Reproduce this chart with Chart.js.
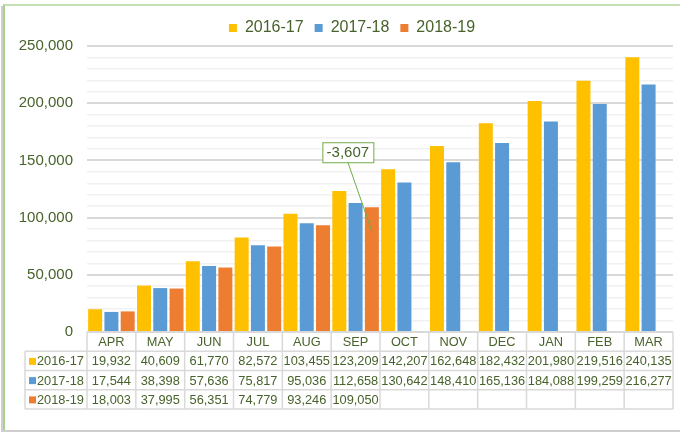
<!DOCTYPE html>
<html>
<head>
<meta charset="utf-8">
<script src="https://cdn.jsdelivr.net/npm/chart.js@4.4.1/dist/chart.umd.min.js"></script>
<style>
    html, body { margin: 0; padding: 0; background: #fff; }
    .wrap { position: relative; width: 680px; height: 432px; overflow: hidden; }
    #chart { position: absolute; left: 0; top: 0; }
    .frame {
        position: absolute; left: 3px; top: 4px; width: 720px; height: 424px;
        border-top: 2px solid #c5e0b4; border-left: 2px solid #a9d18e;
        box-shadow: -2px 2px 0 #cfcfcf; pointer-events: none;
    }
</style>
</head>
<body>
<div class="wrap">
    <canvas id="chart" width="680" height="432"></canvas>
    <div class="frame"></div>
</div>
<script>
/* ==============================
   Cumulative monthly values — FY comparison
   ============================== */

const months = ['APR', 'MAY', 'JUN', 'JUL', 'AUG', 'SEP', 'OCT', 'NOV', 'DEC', 'JAN', 'FEB', 'MAR'];
const seriesNames = ['2016-17', '2017-18', '2018-19'];
const fy1617 = [19932, 40609, 61770, 82572, 103455, 123209, 142207, 162648, 182432, 201980, 219516, 240135];
const fy1718 = [17544, 38398, 57636, 75817, 95036, 112658, 130642, 148410, 165136, 184088, 199259, 216277];
const fy1819 = [18003, 37995, 56351, 74779, 93246, 109050, null, null, null, null, null, null];
const yTicks = [0, 50000, 100000, 150000, 200000, 250000];
const calloutText = '-3,607';
const calloutIndex = 5; // SEP

const COLORS = ['#FFC000', '#5B9BD5', '#ED7D31'];
const TEXT = '#47622a';
const GRID = '#d9d9d9';
const FONT = '"Liberation Sans", Arial, sans-serif';

const fmt = v => v == null ? '' : v.toLocaleString('en-US');

// ── Data table under the plot ──────────
const dataTable = {
    id: 'dataTable',
    afterDraw(chart) {
        const { ctx, chartArea: area, scales: { x } } = chart;
        const rows = [fy1617, fy1718, fy1819];
        const colW = (area.right - area.left) / months.length;
        const rowH = 19.25;
        const top = area.bottom;
        const bottom = top + rowH * 4;
        const legendLeft = 25;

        ctx.save();
        ctx.strokeStyle = GRID;
        ctx.lineWidth = 1.5;
        ctx.beginPath();
        // horizontal lines
        ctx.moveTo(area.left, top); ctx.lineTo(area.right, top);
        for (let r = 1; r <= 4; r++) {
            ctx.moveTo(legendLeft, top + r * rowH);
            ctx.lineTo(area.right, top + r * rowH);
        }
        // vertical lines
        for (let c = 0; c <= months.length; c++) {
            const cx = area.left + c * colW;
            ctx.moveTo(cx, top); ctx.lineTo(cx, bottom);
        }
        ctx.moveTo(legendLeft, top + rowH); ctx.lineTo(legendLeft, bottom);
        ctx.stroke();

        ctx.fillStyle = TEXT;
        ctx.font = `12.8px ${FONT}`;
        ctx.textAlign = 'center';
        ctx.textBaseline = 'middle';
        months.forEach((m, i) => {
            const cx = x.getPixelForValue(i);
            ctx.fillText(m, cx, top + rowH / 2 + 1);
            rows.forEach((row, r) => {
                ctx.fillText(fmt(row[i]), cx, top + rowH * (r + 1.5) + 1);
            });
        });

        // row keys
        ctx.textAlign = 'left';
        seriesNames.forEach((name, r) => {
            const cy = top + rowH * (r + 1.5);
            ctx.fillStyle = COLORS[r];
            ctx.fillRect(legendLeft + 4, cy - 3, 7, 7);
            ctx.fillStyle = TEXT;
            ctx.fillText(name, legendLeft + 12, cy + 1);
        });
        ctx.restore();
    }
};

// ── Callout on the SEP 2018-19 bar ──────────
const callout = {
    id: 'callout',
    afterDatasetsDraw(chart) {
        const bar = chart.getDatasetMeta(2).data[calloutIndex];
        if (!bar) return;
        const { ctx } = chart;
        const bx = bar.x - 24, by = bar.y - 55;
        const w = 51, h = 20;

        ctx.save();
        ctx.strokeStyle = '#70AD47';
        ctx.lineWidth = 1;
        ctx.beginPath();
        ctx.moveTo(bx, by + h / 2);
        ctx.lineTo(bar.x, bar.y + 24);
        ctx.stroke();

        ctx.fillStyle = '#fff';
        ctx.fillRect(bx - w / 2, by - h / 2, w, h);
        ctx.strokeRect(bx - w / 2 + 0.5, by - h / 2 + 0.5, w, h);
        ctx.fillStyle = TEXT;
        ctx.font = `15px ${FONT}`;
        ctx.textAlign = 'center';
        ctx.textBaseline = 'middle';
        ctx.fillText(calloutText, bx, by + 1);
        ctx.restore();
    }
};

// legend sits a little right of the canvas centre in the reference
const legendShift = {
    id: 'legendShift',
    afterLayout(chart) {
        if (chart.legend) chart.legend.left += 31;
    }
};

function renderChart() {
    const canvas = document.getElementById('chart');
    new Chart(canvas, {
        type: 'bar',
        data: {
            labels: months,
            datasets: [fy1617, fy1718, fy1819].map((d, i) => ({
                label: seriesNames[i], data: d, backgroundColor: COLORS[i],
                categoryPercentage: 1, barPercentage: 0.86
            }))
        },
        options: {
            responsive: false, animation: false, devicePixelRatio: 1,
            layout: { padding: { top: 9, left: 0, right: 7, bottom: 100 } },
            plugins: {
                legend: {
                    position: 'top',
                    labels: { color: TEXT, font: { family: FONT, size: 16 }, boxWidth: 8, boxHeight: 8, padding: 11 }
                },
                tooltip: { enabled: false }
            },
            scales: {
                x: { display: false },
                y: {
                    min: 0, max: yTicks[yTicks.length - 1],
                    afterFit: s => { s.width = 87; },
                    border: { display: false },
                    grid: {
                        drawTicks: false,
                        color: c => yTicks.includes(c.tick.value) ? GRID : '#f1f1f1',
                        lineWidth: c => yTicks.includes(c.tick.value) ? 2 : 1.5
                    },
                    ticks: {
                        stepSize: 10000, autoSkip: false, maxTicksLimit: 40, padding: 14,
                        color: TEXT, font: { family: FONT, size: 15 },
                        callback: v => yTicks.includes(v) ? fmt(v) : ''
                    }
                }
            }
        },
        plugins: [dataTable, callout, legendShift]
    });
}

renderChart();
</script>
</body>
</html>
